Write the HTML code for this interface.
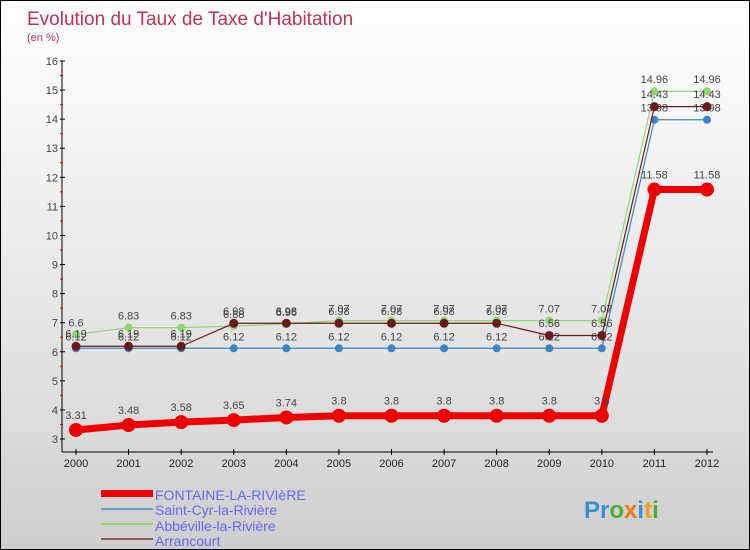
<!DOCTYPE html>
<html><head><meta charset="utf-8"><style>
body{margin:0}
#c{width:750px;height:550px;position:relative;box-sizing:border-box;border:1px solid #000;background:linear-gradient(#fff,#f2f2f2 30%,#e0e0e0 70%,#cecece);font-family:"Liberation Sans",sans-serif;overflow:hidden}
svg text{font-family:"Liberation Sans",sans-serif}
</style></head><body>
<div id="c">
<svg width="750" height="550" id="s">
<text x="26" y="24" font-size="19" fill="#c0305a">Evolution du Taux de Taxe d'Habitation</text>
<text x="26" y="40" font-size="11" fill="#c0305a">(en %)</text>
<g id="axes"></g><g id="series"></g>
<g>
<rect x="100" y="489" width="52" height="7" fill="#e00"/>
<text x="154" y="499" font-size="14" fill="#6666ee">FONTAINE-LA-RIVIèRE</text>
<rect x="100" y="507" width="52" height="2" fill="#6a9ecf"/>
<text x="154" y="514" font-size="14" fill="#6666ee">Saint-Cyr-la-Rivière</text>
<rect x="100" y="522" width="52" height="2" fill="#8fd870"/>
<text x="154" y="530" font-size="14" fill="#6666ee">Abbéville-la-Rivière</text>
<rect x="100" y="537" width="52" height="2" fill="#8b5a5a"/>
<text x="154" y="545" font-size="14" fill="#6666ee">Arrancourt</text>
</g>
<text x="583" y="517" font-size="24" font-weight="bold"><tspan fill="#3a8fd0">Pr</tspan><tspan fill="#4caf30">o</tspan><tspan fill="#f07a10">x</tspan><tspan fill="#3a8fd0">i</tspan><tspan fill="#f0a010">t</tspan><tspan fill="#4caf30">i</tspan></text>
</svg></div>
<script>
const years=[2000,2001,2002,2003,2004,2005,2006,2007,2008,2009,2010,2011,2012];
const yTicks=[3,4,5,6,7,8,9,10,11,12,13,14,15,16];
const fontaine=[3.31,3.48,3.58,3.65,3.74,3.8,3.8,3.8,3.8,3.8,3.8,11.58,11.58];
const saintCyr=[6.12,6.12,6.12,6.12,6.12,6.12,6.12,6.12,6.12,6.12,6.12,13.98,13.98];
const abbeville=[6.6,6.83,6.83,6.88,6.96,7.07,7.07,7.07,7.07,7.07,7.07,14.96,14.96];
const arrancourt=[6.19,6.19,6.19,6.98,6.98,6.98,6.98,6.98,6.98,6.56,6.56,14.43,14.43];
const NS="http://www.w3.org/2000/svg";
const X=i=>75+i*(706-75)/12;
const Y=v=>438-(v-3)*(438-60)/13;
function mk(t,a,p){const e=document.createElementNS(NS,t);for(const k in a)e.setAttribute(k,a[k]);p.appendChild(e);return e;}
const ax=document.getElementById('axes'),sg=document.getElementById('series');
let l=mk('line',{x1:61,y1:Y(16),x2:61,y2:451,stroke:'#000'},ax);


l=mk('line',{x1:61,y1:451,x2:712,y2:451,stroke:'#000'},ax);


yTicks.forEach(v=>{
 mk('line',{x1:59,y1:Y(v),x2:64,y2:Y(v),stroke:'#000'},ax);
 if(v<16)mk('line',{x1:59,y1:Y(v+0.5),x2:62,y2:Y(v+0.5),stroke:'#e00'},ax);
 const t=mk('text',{x:57,y:Y(v)+4,'font-size':11,fill:'#444','text-anchor':'end'},ax);t.textContent=v;
 
 
});
years.forEach((y,i)=>{
 mk('line',{x1:X(i),y1:448,x2:X(i),y2:454,stroke:'#000'},ax);
 const t=mk('text',{x:X(i),y:466,'font-size':11,fill:'#222','text-anchor':'middle'},ax);t.textContent=y;
 
 
});
function series(d,col,w,r,name){
 const g=mk('g',{},sg);
 
 
 mk('polyline',{points:d.map((v,i)=>X(i)+','+Y(v)).join(' '),fill:'none',stroke:col,'stroke-width':w,'stroke-linejoin':'round'},g);
 d.forEach((v,i)=>{
  const c=mk('circle',{cx:X(i),cy:Y(v),r:r,fill:col},g);
  
  
  const t=mk('text',{x:X(i),y:Y(v)-r-4,'font-size':11,fill:'#444','text-anchor':'middle'},g);t.textContent=v;
  
  
 });
}
series(saintCyr,'#3a85c5',1.2,4,'series-saint-cyr');
series(abbeville,'#8fd870',1.2,4,'series-abbeville');
series(arrancourt,'#6a1a1a',1.2,4.5,'series-arrancourt');
series(fontaine,'#e00',7,7,'series-fontaine');
</script>
</body></html>
